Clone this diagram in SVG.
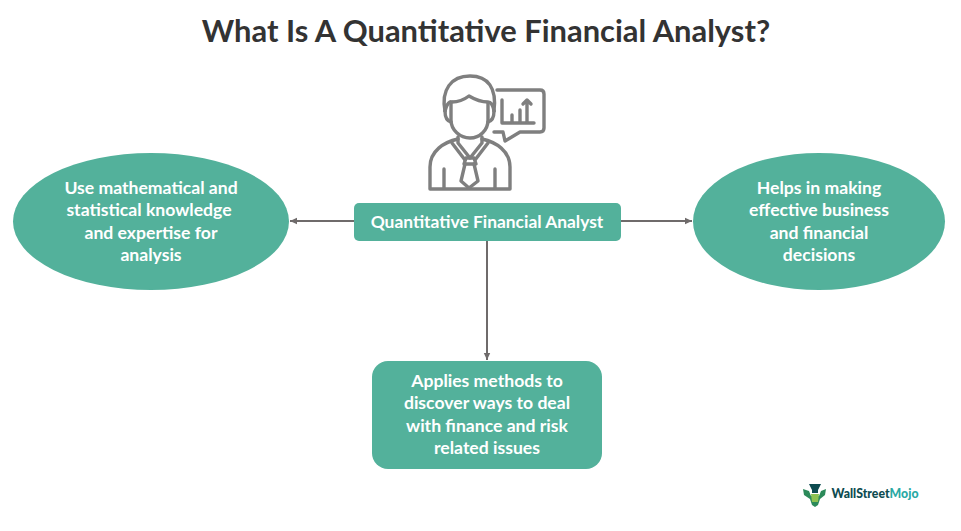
<svg xmlns="http://www.w3.org/2000/svg" width="961" height="531" viewBox="0 0 961 531">
<style>
text{font-family:"Lato","Carlito","Noto Sans",sans-serif;font-weight:700;text-anchor:middle}
.t{font-size:17.6px;fill:#fff}
.n{fill:#53b19b}
.c{fill:none;stroke:#6f6b6b;stroke-width:2}
.i{fill:none;stroke:#7f7f7f;stroke-width:3.4;stroke-linecap:round;stroke-linejoin:round}
</style>
<defs>
<marker id="a" markerWidth="8" markerHeight="8" refX="7" refY="4" orient="auto" markerUnits="userSpaceOnUse"><path d="M0 0.8L7 4L0 7.2Z" fill="#6f6b6b"/></marker>
</defs>
<rect width="961" height="531" fill="#fff"/>
<text id="title" x="486" y="42" font-size="30.900" fill="#333333">What Is A Quantitative Financial Analyst?</text>
<g id="icon" class="i">
<path d="M445 111C441 90 451 76 470 76C488 76 497 88 494 111"/>
<path d="M445 111C447 103 450 101 452 102C460 102 465 99 469 96C474 99 480 102 488 102C491 102 493 105 494 111"/>
<path d="M451 103L451 120C451 130 460 138 470 138C480 138 488 130 488 120L488 103"/>
<path d="M445 111C445 118 447 121 451 122M494 111C494 118 492 121 488 122"/>
<path d="M430 189L430 167C430 151 444 142 458 139M510 189L510 167C510 151 496 142 482 139M430 189L510 189"/>
<path d="M458 137V143L470 158L482 143V137"/>
<path d="M452 143L465 160M488 143L475 160"/>
<path d="M466 158H474L476 164H464Z"/>
<path d="M465 164L461 181L469 188L478 181L474 164"/>
<path d="M444 169V188M495 169V188"/>
<path d="M497 90H540Q544 90 544 94V128Q544 132 540 132H520L505 141L503 132H494"/>
<path d="M502 100V123H534"/>
<path d="M512 122V115M520 122V110M527 122V103M523 104L527 100L531 104"/>
</g>
<g id="connectors">
<path class="c" d="M354 221H290" marker-end="url(#a)"/>
<path class="c" d="M621 221H692" marker-end="url(#a)"/>
<path class="c" d="M487 241V360" marker-end="url(#a)"/>
</g>
<g id="center">
<rect class="n" x="354" y="203" width="267" height="38" rx="5"/>
<text class="t" x="487" y="228" style="font-size:17.4px">Quantitative Financial Analyst</text>
</g>
<g id="left">
<ellipse class="n" cx="151" cy="221.500" rx="138" ry="68.500"/>
<text class="t" x="151" y="194">Use mathematical and</text>
<text class="t" x="149" y="216">statistical knowledge</text>
<text class="t" x="151" y="239">and expertise for</text>
<text class="t" x="151" y="261">analysis</text>
</g>
<g id="right">
<ellipse class="n" cx="819" cy="221.500" rx="126" ry="68.500"/>
<text class="t" x="819" y="194">Helps in making</text>
<text class="t" x="819" y="216">effective business</text>
<text class="t" x="819" y="239">and financial</text>
<text class="t" x="819" y="261">decisions</text>
</g>
<g id="bottom">
<rect class="n" x="372" y="361" width="230" height="108" rx="16"/>
<text class="t" x="487" y="387">Applies methods to</text>
<text class="t" x="487" y="409">discover ways to deal</text>
<text class="t" x="487" y="432">with finance and risk</text>
<text class="t" x="487" y="454">related issues</text>
</g>
<g id="logo">
<path d="M809 484H821L818 490V493H812V490Z" fill="#0d4b50"/>
<path d="M803 489L809 491L811 496H819L821 491L826 489L825 495L820 499L818 505L815 507L812 505L810 499L804 495Z" fill="#2c8a5a"/>
<path d="M811 494H819L818 502H812Z" fill="#8cc152"/>
<text x="875" y="498" font-size="12.500" fill="#0d4b50" textLength="87" lengthAdjust="spacingAndGlyphs" style="font-weight:900"><tspan>WallStreet</tspan><tspan fill="#2aa9a5">Mojo</tspan></text>
</g>
</svg>
